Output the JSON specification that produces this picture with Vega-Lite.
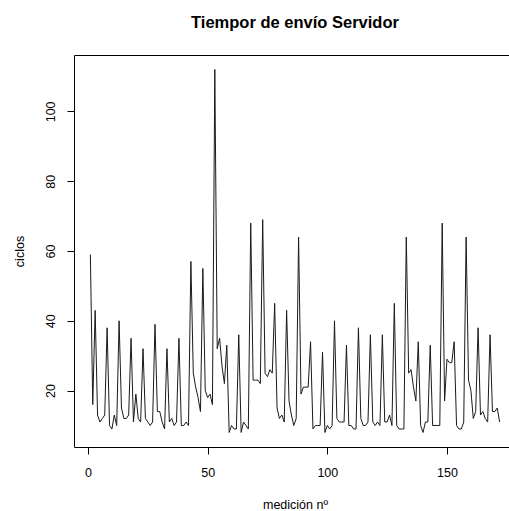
{
  "$schema": "https://vega.github.io/schema/vega-lite/v6.json",
  "autosize": "none",
  "padding": {"left": 74, "top": 55, "right": 0, "bottom": 64},
  "width": 442,
  "height": 392,
  "background": "white",
  "title": {"text": "Tiempor de envío Servidor", "font": "Liberation Sans", "fontSize": 16.5, "fontWeight": "bold", "color": "#000", "anchor": "middle", "baseline": "alphabetic", "offset": 11},
  "config": {
    "view": {"stroke": "#000", "strokeWidth": 1},
    "axis": {"grid": false, "domain": false, "tickColor": "#000", "tickSize": 7, "labelFont": "Liberation Sans", "labelFontSize": 12.5, "labelColor": "#000", "titleFont": "Liberation Sans", "titleFontSize": 12.5, "titleFontWeight": "normal", "titleColor": "#000"}
  },
  "data": {"values": [
    {"n":1,"v":59},{"n":2,"v":16},{"n":3,"v":43},{"n":4,"v":13},{"n":5,"v":11},{"n":6,"v":12},{"n":7,"v":13},{"n":8,"v":38},{"n":9,"v":10},{"n":10,"v":9},
    {"n":11,"v":13},{"n":12,"v":10},{"n":13,"v":40},{"n":14,"v":15},{"n":15,"v":12},{"n":16,"v":12},{"n":17,"v":13},{"n":18,"v":35},{"n":19,"v":11},{"n":20,"v":19},
    {"n":21,"v":12},{"n":22,"v":11},{"n":23,"v":32},{"n":24,"v":12},{"n":25,"v":11},{"n":26,"v":10},{"n":27,"v":11},{"n":28,"v":39},{"n":29,"v":14},{"n":30,"v":14},
    {"n":31,"v":11},{"n":32,"v":9},{"n":33,"v":32},{"n":34,"v":11},{"n":35,"v":12},{"n":36,"v":10},{"n":37,"v":11},{"n":38,"v":35},{"n":39,"v":10},{"n":40,"v":10},
    {"n":41,"v":11},{"n":42,"v":10},{"n":43,"v":57},{"n":44,"v":25},{"n":45,"v":21},{"n":46,"v":18},{"n":47,"v":14},{"n":48,"v":55},{"n":49,"v":20},{"n":50,"v":18},
    {"n":51,"v":19},{"n":52,"v":16},{"n":53,"v":112},{"n":54,"v":32},{"n":55,"v":35},{"n":56,"v":27},{"n":57,"v":22},{"n":58,"v":33},{"n":59,"v":8},{"n":60,"v":10},
    {"n":61,"v":9},{"n":62,"v":9},{"n":63,"v":36},{"n":64,"v":8},{"n":65,"v":11},{"n":66,"v":10},{"n":67,"v":9},{"n":68,"v":68},{"n":69,"v":23},{"n":70,"v":23},
    {"n":71,"v":23},{"n":72,"v":22},{"n":73,"v":69},{"n":74,"v":25},{"n":75,"v":24},{"n":76,"v":26},{"n":77,"v":25},{"n":78,"v":45},{"n":79,"v":15},{"n":80,"v":12},
    {"n":81,"v":13},{"n":82,"v":11},{"n":83,"v":43},{"n":84,"v":17},{"n":85,"v":13},{"n":86,"v":10},{"n":87,"v":12},{"n":88,"v":64},{"n":89,"v":19},{"n":90,"v":21},
    {"n":91,"v":21},{"n":92,"v":21},{"n":93,"v":34},{"n":94,"v":9},{"n":95,"v":10},{"n":96,"v":10},{"n":97,"v":10},{"n":98,"v":31},{"n":99,"v":8},{"n":100,"v":10},
    {"n":101,"v":9},{"n":102,"v":10},{"n":103,"v":40},{"n":104,"v":12},{"n":105,"v":11},{"n":106,"v":11},{"n":107,"v":11},{"n":108,"v":33},{"n":109,"v":10},{"n":110,"v":10},
    {"n":111,"v":9},{"n":112,"v":9},{"n":113,"v":38},{"n":114,"v":12},{"n":115,"v":10},{"n":116,"v":10},{"n":117,"v":11},{"n":118,"v":36},{"n":119,"v":11},{"n":120,"v":10},
    {"n":121,"v":11},{"n":122,"v":10},{"n":123,"v":36},{"n":124,"v":11},{"n":125,"v":11},{"n":126,"v":13},{"n":127,"v":10},{"n":128,"v":45},{"n":129,"v":10},{"n":130,"v":9},
    {"n":131,"v":9},{"n":132,"v":9},{"n":133,"v":64},{"n":134,"v":25},{"n":135,"v":26},{"n":136,"v":21},{"n":137,"v":17},{"n":138,"v":34},{"n":139,"v":10},{"n":140,"v":8},
    {"n":141,"v":11},{"n":142,"v":11},{"n":143,"v":33},{"n":144,"v":10},{"n":145,"v":10},{"n":146,"v":10},{"n":147,"v":10},{"n":148,"v":68},{"n":149,"v":17},{"n":150,"v":29},
    {"n":151,"v":28},{"n":152,"v":28},{"n":153,"v":34},{"n":154,"v":10},{"n":155,"v":9},{"n":156,"v":9},{"n":157,"v":11},{"n":158,"v":64},{"n":159,"v":23},{"n":160,"v":20},
    {"n":161,"v":12},{"n":162,"v":14},{"n":163,"v":38},{"n":164,"v":13},{"n":165,"v":14},{"n":166,"v":12},{"n":167,"v":11},{"n":168,"v":36},{"n":169,"v":14},{"n":170,"v":14},
    {"n":171,"v":15},{"n":172,"v":11}
  ]},
  "mark": {"type": "line", "color": "#1a1a1a", "strokeWidth": 1, "clip": true},
  "encoding": {
    "x": {"field": "n", "type": "quantitative", "scale": {"domain": [-5.84, 178.84], "nice": false, "zero": false}, "axis": {"values": [0, 50, 100, 150], "title": "medición nº", "labelPadding": 12, "titleY": 57, "titleBaseline": "middle"}},
    "y": {"field": "v", "type": "quantitative", "scale": {"domain": [3.84, 116.16], "nice": false, "zero": false}, "axis": {"values": [20, 40, 60, 80, 100], "title": "ciclos", "labelAngle": -90, "labelAlign": "center", "labelBaseline": "alphabetic", "labelPadding": 13, "titleX": -55, "titleY": 196, "titleAngle": -90, "titleBaseline": "middle", "titleAlign": "center"}}
  }
}
